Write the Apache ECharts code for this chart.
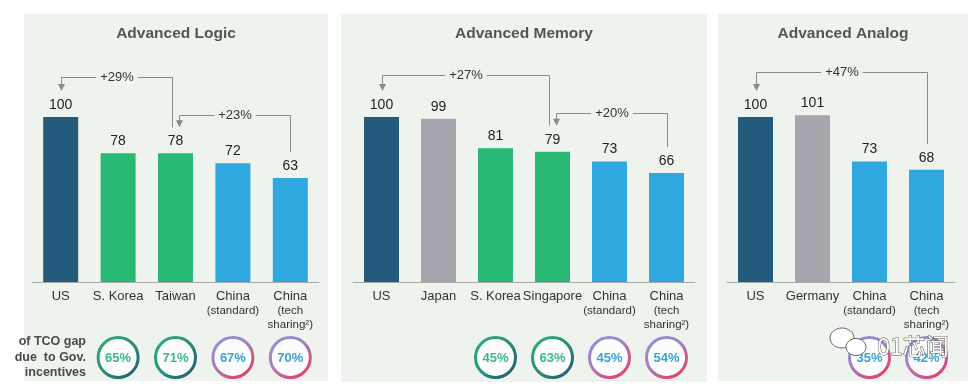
<!DOCTYPE html>
<html><head><meta charset="utf-8">
<script src="https://cdn.jsdelivr.net/npm/echarts@6/dist/echarts.min.js"></script>
<style>html,body{margin:0;padding:0;background:#fff}#c{width:980px;height:389px}</style>
</head><body><div id="c"></div>
<script>
// ---------- DATA ----------
const logicTitle = 'Advanced Logic';
const logicCats = ['US', 'S. Korea', 'Taiwan', 'China', 'China'];
const logicSub = ['', '', '', '(standard)', '(tech\nsharing²)'];
const logicValues = [100, 78, 78, 72, 63];
const logicGroups = ['us', 'peer', 'peer', 'china', 'china'];
const logicIncentives = [null, '65%', '71%', '67%', '70%'];
const logicBrackets = [
  { from: 0, to: 2, level: 124, text: '+29%' },
  { from: 2, to: 4, level: 101, text: '+23%' }
];

const memoryTitle = 'Advanced Memory';
const memoryCats = ['US', 'Japan', 'S. Korea', 'Singapore', 'China', 'China'];
const memorySub = ['', '', '', '', '(standard)', '(tech\nsharing²)'];
const memoryValues = [100, 99, 81, 79, 73, 66];
const memoryGroups = ['us', 'other', 'peer', 'peer', 'china', 'china'];
const memoryIncentives = [null, null, '45%', '63%', '45%', '54%'];
const memoryBrackets = [
  { from: 0, to: 3, level: 125.5, text: '+27%' },
  { from: 3, to: 5, level: 102.5, text: '+20%' }
];

const analogTitle = 'Advanced Analog';
const analogCats = ['US', 'Germany', 'China', 'China'];
const analogSub = ['', '', '(standard)', '(tech\nsharing²)'];
const analogValues = [100, 101, 73, 68];
const analogGroups = ['us', 'other', 'china', 'china'];
const analogIncentives = [null, null, '35%', '42%'];
const analogBrackets = [
  { from: 0, to: 3, level: 127, text: '+47%' }
];

const incentiveLabel = 'of TCO gap\ndue  to Gov.\nincentives';
const watermark = '01芯闻';

// ---------- STYLE / LAYOUT ----------
const FONT = '"Liberation Sans", Arial, sans-serif';
const BG = '#eff3ee';
const COLORS = { us: '#245a7b', peer: '#28b974', china: '#2fa8e0', other: '#a7a6af' };

const panels = [
  { title: logicTitle, cats: logicCats, sub: logicSub, values: logicValues, groups: logicGroups,
    incentives: logicIncentives, brackets: logicBrackets,
    left: 32, width: 287, rect: [24, 14, 304, 367], tx: 176 },
  { title: memoryTitle, cats: memoryCats, sub: memorySub, values: memoryValues, groups: memoryGroups,
    incentives: memoryIncentives, brackets: memoryBrackets,
    left: 353, width: 342, rect: [341, 14, 366, 368], tx: 524 },
  { title: analogTitle, cats: analogCats, sub: analogSub, values: analogValues, groups: analogGroups,
    incentives: analogIncentives, brackets: analogBrackets,
    left: 727, width: 228, rect: [718, 14, 250, 367], tx: 843 }
];

function bracketRenderer(p) {
  return function (params, api) {
    const b = p.brackets[params.dataIndex];
    const shareFrom = p.brackets.some(o => o !== b && o.to === b.from);
    const shareTo = p.brackets.some(o => o !== b && o.from === b.to);
    const x1 = Math.round(api.coord([b.from, 0])[0] + (shareFrom ? 3.5 : 0)) + 0.5;
    const x2 = Math.round(api.coord([b.to, 0])[0] + (shareTo ? -3.5 : 0)) + 0.5;
    const yL = Math.round(api.coord([b.from, b.level])[1]) + 0.5;
    const y1 = api.coord([b.from, p.values[b.from]])[1] - 26;
    const y2 = api.coord([b.to, p.values[b.to]])[1] - 26;
    return {
      type: 'group',
      children: [
        { type: 'polyline', shape: { points: [[x1, y1 - 6], [x1, yL], [x2, yL], [x2, y2]] },
          style: { stroke: '#8a8a8a', lineWidth: 1, fill: null } },
        { type: 'polygon', shape: { points: [[x1 - 3.5, y1 - 7], [x1 + 3.5, y1 - 7], [x1, y1]] },
          style: { fill: '#8a8a8a' } },
        { type: 'text', x: (x1 + x2) / 2, y: yL,
          style: { text: b.text, align: 'center', verticalAlign: 'middle', fill: '#333',
            font: '13px ' + FONT, backgroundColor: BG, padding: [1, 4] } }
      ]
    };
  };
}

function circleRenderer(p) {
  return function (params, api) {
    const k = params.dataIndex;
    const t = p.incentives[k];
    if (!t) return null;
    const x = api.coord([k, 0])[0];
    const y = 357.5;
    const green = p.groups[k] === 'peer';
    const stroke = green
      ? new echarts.graphic.LinearGradient(0, 0, 1, 1, [{ offset: 0, color: '#2cb574' }, { offset: 0.55, color: '#2a8a78' }, { offset: 1, color: '#24507a' }])
      : new echarts.graphic.LinearGradient(0, 0, 0.7, 1, [{ offset: 0, color: '#7e9de2' }, { offset: 0.5, color: '#a77fc0' }, { offset: 1, color: '#e2406d' }]);
    return {
      type: 'group',
      children: [
        { type: 'circle', shape: { cx: x, cy: y, r: 20 }, style: { fill: '#fbfcfb', stroke: stroke, lineWidth: 3 } },
        { type: 'text', x: x, y: y + 0.5,
          style: { text: t, align: 'center', verticalAlign: 'middle',
            fill: green ? '#3bb98a' : '#33a6de', font: 'bold 13px ' + FONT } }
      ]
    };
  };
}

const series = [];
panels.forEach((p, i) => {
  series.push({
    type: 'bar', xAxisIndex: i, yAxisIndex: i, barWidth: 35, silent: true,
    data: p.values.map((v, k) => ({ value: v, itemStyle: { color: COLORS[p.groups[k]] } })),
    label: { show: true, position: 'top', distance: 5, color: '#222', fontSize: 14, fontFamily: FONT }
  });
  series.push({
    type: 'custom', xAxisIndex: i, yAxisIndex: i, silent: true, clip: false, z: 5,
    data: p.brackets.map(b => [b.from, b.level]),
    renderItem: bracketRenderer(p)
  });
  series.push({
    type: 'custom', xAxisIndex: i, yAxisIndex: i, silent: true, clip: false, z: 5,
    data: p.values.map((v, k) => [k, 0]),
    renderItem: circleRenderer(p)
  });
});

const graphic = [];
panels.forEach(p => {
  graphic.push({ type: 'rect', z: -10, shape: { x: p.rect[0], y: p.rect[1], width: p.rect[2], height: p.rect[3] },
    style: { fill: BG } });
  graphic.push({ type: 'text', x: p.tx, y: 34, z: 10,
    style: { text: p.title, align: 'center', verticalAlign: 'middle', fill: '#555',
      font: 'bold 15.5px ' + FONT } });
});
graphic.push({ type: 'text', x: 86, y: 334, z: 10,
  style: { text: incentiveLabel, align: 'right', verticalAlign: 'top', fill: '#4a4a4a',
    font: 'bold 12.5px ' + FONT, lineHeight: 15.5 } });
// watermark
graphic.push({ type: 'ellipse', z: 100, shape: { cx: 842, cy: 338, rx: 12, ry: 10 },
  style: { fill: '#fff', stroke: '#666', lineWidth: 1 } });
graphic.push({ type: 'ellipse', z: 101, shape: { cx: 856, cy: 347, rx: 10, ry: 8.5 },
  style: { fill: '#fff', stroke: '#666', lineWidth: 1 } });
graphic.push({ type: 'text', x: 913, y: 346, z: 102,
  style: { text: watermark, align: 'center', verticalAlign: 'middle', fill: '#fff', stroke: '#555',
    lineWidth: 1, font: '23px "Noto Sans CJK SC", sans-serif' } });

const option = {
  animation: false,
  backgroundColor: '#fff',
  grid: panels.map(p => ({ left: p.left, width: p.width, top: 18, bottom: 107 })),
  xAxis: panels.map((p, i) => ({
    type: 'category', gridIndex: i, data: p.cats,
    axisTick: { show: false },
    axisLine: { lineStyle: { color: '#a9a9a9', width: 1 } },
    axisLabel: {
      interval: 0, margin: 6, color: '#333', fontSize: 13, lineHeight: 16, fontFamily: FONT,
      formatter: function (v, idx) {
        const s = p.sub[idx];
        return s ? v + '\n' + s.split('\n').map(l => '{s|' + l + '}').join('\n') : v;
      },
      rich: { s: { fontSize: 11.5, lineHeight: 14, color: '#333', fontFamily: FONT } }
    }
  })),
  yAxis: panels.map((p, i) => ({ type: 'value', gridIndex: i, min: 0, max: 160, show: false })),
  series: series,
  graphic: graphic
};

const chart = echarts.init(document.getElementById('c'));
chart.setOption(option);
</script>
</body></html>
